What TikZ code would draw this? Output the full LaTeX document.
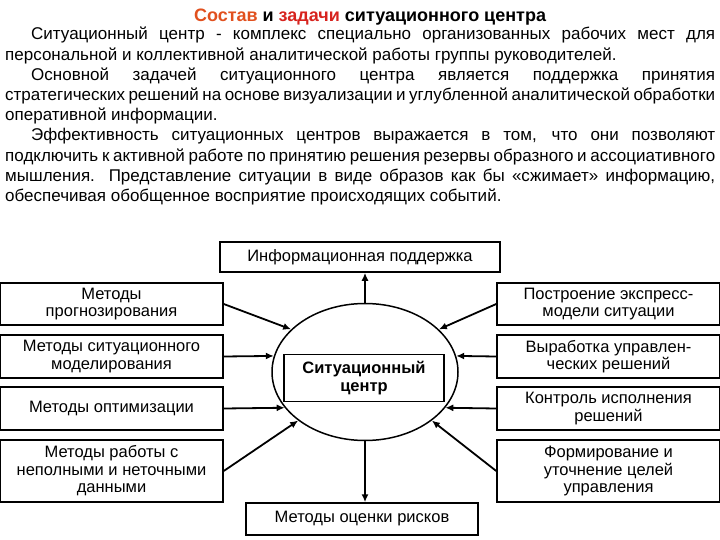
\documentclass[tikz,border=0pt]{standalone}
\usepackage{fontspec}
\setmainfont{Liberation Sans}
\usetikzlibrary{shapes.geometric,arrows.meta}
\definecolor{torange}{RGB}{225,80,30}
\definecolor{tred}{RGB}{215,35,30}
\begin{document}
\begin{tikzpicture}[x=1pt,y=-1pt,
  box/.style={draw,line width=1.5pt,align=center,inner sep=1pt,font=\fontsize{16.5}{17.5}\selectfont},
  arr/.style={line width=1.8pt,-{Latex[length=8pt,width=7pt]}}]
\useasboundingbox (0,0) rectangle (720,540);
\node[font=\bfseries\fontsize{18}{20}\selectfont] (title) at (370,17)
  {\textcolor{torange}{Состав} и \textcolor{tred}{задачи} ситуационного центра};
\node[anchor=north west,inner sep=0pt,text width=710pt,align=justify,
  font=\fontsize{17}{20.2}\selectfont] (txt) at (5,27)
  {\hspace*{26pt}Ситуационный центр - комплекс специально организованных рабочих мест для персональной и коллективной аналитической работы группы руководителей.\par
   \hspace*{26pt}Основной задачей ситуационного центра является поддержка принятия стратегических решений на основе визуализации и углубленной аналитической обработки оперативной информации.\par
   \hspace*{26pt}Эффективность ситуационных центров выражается в том, что они позволяют подключить к активной работе по принятию решения резервы образного и ассоциативного мышления. Представление ситуации в виде образов как бы «сжимает» информацию, обеспечивая обобщенное восприятие происходящих событий.};
\node[draw,ellipse,line width=1.5pt,minimum width=186pt,minimum height=137pt] (el) at (365,372) {};
\node[box,minimum width=160pt,minimum height=47pt,font=\bfseries\fontsize{16.5}{17.5}\selectfont] (sc) at (364,378) {Ситуационный\\центр};
\node[box,minimum width=280pt,minimum height=30pt] (top) at (360,257) {Информационная поддержка};
\node[box,minimum width=232pt,minimum height=32pt] (bot) at (362,519) {Методы оценки рисков};
\node[box,minimum width=223pt,minimum height=42pt] (l1) at (111.5,304) {Методы\\прогнозирования};
\node[box,minimum width=223pt,minimum height=43pt] (l2) at (111.5,356.5) {Методы ситуационного\\моделирования};
\node[box,minimum width=223pt,minimum height=43pt] (l3) at (111.5,408.5) {Методы оптимизации};
\node[box,minimum width=223pt,minimum height=62pt] (l4) at (111.5,471) {Методы работы с\\неполными и неточными\\данными};
\node[box,minimum width=223pt,minimum height=42pt] (r1) at (608.5,304) {Построение экспресс-\\модели ситуации};
\node[box,minimum width=223pt,minimum height=43pt] (r2) at (608.5,356.5) {Выработка управлен-\\ческих решений};
\node[box,minimum width=223pt,minimum height=43pt] (r3) at (608.5,408.5) {Контроль исполнения\\решений};
\node[box,minimum width=223pt,minimum height=62pt] (r4) at (608.5,471) {Формирование и\\уточнение целей\\управления};
\draw[arr] (el.north) -- (el.north |- top.south);
\draw[arr] (el.south) -- (el.south |- bot.north);
\draw[arr] (l1.east) -- (el.150);
\draw[arr] (l2.east) -- (el.170);
\draw[arr] (l3.east) -- (el.204);
\draw[arr] (l4.east) -- (el.216);
\draw[arr] (r1.west) -- (el.30);
\draw[arr] (r2.west) -- (el.10);
\draw[arr] (r3.west) -- (el.336);
\draw[arr] (r4.west) -- (el.324);
\end{tikzpicture}
\end{document}
